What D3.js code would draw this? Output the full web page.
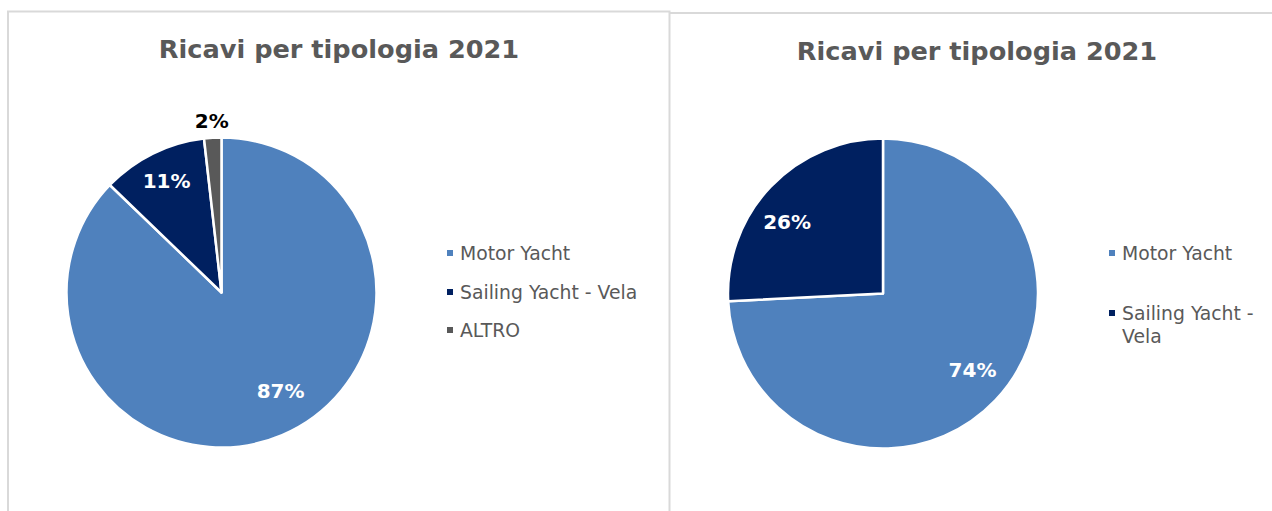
<!DOCTYPE html>
<html>
<head>
<meta charset="utf-8">
<script src="https://cdn.jsdelivr.net/npm/d3@7"></script>
<style>
  html, body { margin: 0; padding: 0; background: #fff; }
  svg { display: block; }
</style>
</head>
<body>
<svg id="chart" width="1272" height="511"></svg>
<script>
// ---- data ----
const titleText = "Ricavi per tipologia 2021";
const leftCategories = ["Motor Yacht", "Sailing Yacht - Vela", "ALTRO"];
const leftValues = [87.2, 11.0, 1.8];
const rightCategories = ["Motor Yacht", "Sailing Yacht - Vela"];
const rightValues = [74.2, 25.8];
const rightLegendLines = [["Motor Yacht"], ["Sailing Yacht -", "Vela"]];

// ---- style ----
const colorMap = {
  "Motor Yacht": "#4f81bd",
  "Sailing Yacht - Vela": "#002060",
  "ALTRO": "#595959"
};
const FONT = "'DejaVu Sans', Verdana, sans-serif";
const svg = d3.select("#chart");

// panel borders
const borderColor = "#d9d9d9";
svg.append("path")
  .attr("d", "M8,520 V11.5 H669.5 V520")
  .attr("fill", "none").attr("stroke", borderColor).attr("stroke-width", 2);
svg.append("path")
  .attr("d", "M669.5,13 H1280")
  .attr("fill", "none").attr("stroke", borderColor).attr("stroke-width", 2);

function drawPie(cfg) {
  const g = svg.append("g");
  g.append("text")
    .attr("x", cfg.titleX).attr("y", cfg.titleY)
    .attr("text-anchor", "middle")
    .attr("font-family", FONT).attr("font-weight", "bold")
    .attr("font-size", 25.6).attr("fill", "#595959")
    .text(titleText);

  const total = d3.sum(cfg.values);
  const pie = d3.pie().sort(null).value(d => d.v);
  const data = pie(cfg.categories.map((c, i) => ({c, v: cfg.values[i]})));
  const arc = d3.arc().innerRadius(0).outerRadius(cfg.r);
  const pg = g.append("g").attr("transform", `translate(${cfg.cx},${cfg.cy})`);
  pg.selectAll("path").data(data).join("path")
    .attr("d", arc)
    .attr("fill", d => colorMap[d.data.c])
    .attr("stroke", "#fff").attr("stroke-width", 2.5)
    .attr("stroke-linejoin", "round");

  pg.selectAll("text.lbl").data(data).join("text")
    .attr("class", "lbl")
    .each(function(d, i) {
      const lp = cfg.labelPos[i];
      const a = (d.startAngle + d.endAngle) / 2 + lp.da * Math.PI / 180;
      const rr = cfg.r * lp.rf;
      d3.select(this)
        .attr("x", Math.sin(a) * rr)
        .attr("y", -Math.cos(a) * rr)
        .attr("fill", lp.color);
    })
    .attr("text-anchor", "middle")
    .attr("dominant-baseline", "central")
    .attr("font-family", FONT).attr("font-weight", "bold")
    .attr("font-size", 20)
    .text(d => Math.round(d.data.v / total * 100) + "%");

  // legend
  const lg = g.append("g");
  cfg.legend.forEach((item, i) => {
    const y = cfg.legendY[i];
    lg.append("rect")
      .attr("x", cfg.legendX).attr("y", y - 3)
      .attr("width", 6).attr("height", 6)
      .attr("fill", colorMap[item.c]);
    item.lines.forEach((ln, j) => {
      lg.append("text")
        .attr("x", cfg.legendX + 13).attr("y", y + j * 23)
        .attr("dominant-baseline", "central")
        .attr("font-family", FONT).attr("font-size", 18.8)
        .attr("fill", "#595959")
        .text(ln);
    });
  });
}

drawPie({
  categories: leftCategories, values: leftValues,
  cx: 221.5, cy: 292.5, r: 155,
  titleX: 339, titleY: 58,
  labelPos: [
    {rf: 0.74, da: -8, color: "#fff"},
    {rf: 0.80, da: 0, color: "#fff"},
    {rf: 1.11, da: 0, color: "#000"}
  ],
  legendX: 447, legendY: [253, 292, 330],
  legend: leftCategories.map(c => ({c, lines: [c]}))
});

drawPie({
  categories: rightCategories, values: rightValues,
  cx: 883, cy: 293.5, r: 155,
  titleX: 977, titleY: 60,
  labelPos: [
    {rf: 0.76, da: -3, color: "#fff"},
    {rf: 0.77, da: -7, color: "#fff"}
  ],
  legendX: 1109, legendY: [253, 313],
  legend: rightCategories.map((c, i) => ({c, lines: rightLegendLines[i]}))
});
</script>
</body>
</html>
